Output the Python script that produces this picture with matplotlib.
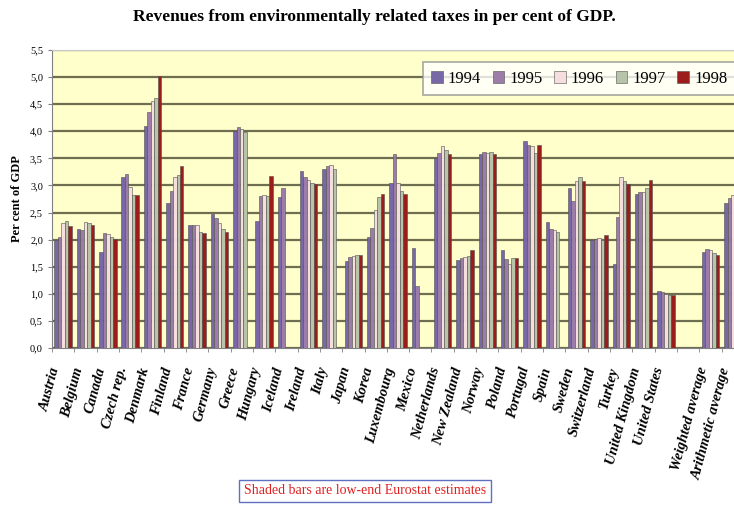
import numpy as np
import matplotlib
matplotlib.use('Agg')
import matplotlib.pyplot as plt
from matplotlib.ticker import MultipleLocator, FuncFormatter

nan = np.nan

# categories (an empty slot before the two averages)
countries = ['Austria', 'Belgium', 'Canada', 'Czech rep.', 'Denmark', 'Finland',
             'France', 'Germany', 'Greece', 'Hungary', 'Iceland', 'Ireland', 'Italy',
             'Japan', 'Korea', 'Luxembourg', 'Mexico', 'Netherlands', 'New Zealand',
             'Norway', 'Poland', 'Portugal', 'Spain', 'Sweden', 'Switzerland', 'Turkey',
             'United Kingdom', 'United States', '', 'Weighted average',
             'Arithmetic average']
years = ['1994', '1995', '1996', '1997', '1998']

# per cent of GDP, one list per year
v1994 = [2.00, 2.20, 1.78, 3.15, 4.10, 2.68, 2.27, 2.48, 4.00, 2.35, 2.78, 3.27, 3.30,
         1.60, 2.05, 3.05, 1.85, 3.50, 1.62, 3.58, 1.80, 3.82, 2.33, 2.95, 2.00, 1.55,
         2.85, 1.05, nan, 1.78, 2.68]
v1995 = [2.05, 2.18, 2.12, 3.22, 4.35, 2.90, 2.27, 2.40, 4.08, 2.80, 2.95, 3.15, 3.36,
         1.68, 2.22, 3.58, 1.15, 3.60, 1.66, 3.62, 1.65, 3.75, 2.20, 2.72, 2.02, 2.42,
         2.88, 1.03, nan, 1.82, 2.76]
v1996 = [2.30, 2.32, 2.10, 2.97, 4.55, 3.15, 2.27, 2.30, 4.05, 2.82, nan, 3.10, 3.38,
         1.70, 2.55, 3.05, nan, 3.72, 1.68, 3.60, 1.55, 3.72, 2.17, 3.08, 2.03, 3.15,
         2.88, 1.00, nan, 1.80, 2.82]
v1997 = [2.35, 2.30, 2.05, 2.82, 4.62, 3.20, 2.15, 2.20, 3.98, 2.80, nan, 3.05, 3.30,
         1.72, 2.78, 2.90, nan, 3.65, 1.70, 3.62, 1.67, 3.60, 2.15, 3.15, 2.00, 3.08,
         2.95, 0.98, nan, 1.75, 2.80]
v1998 = [2.25, 2.27, 2.02, 2.82, 5.02, 3.35, 2.13, 2.15, nan, 3.18, nan, 3.03, nan,
         1.72, 2.85, 2.85, nan, 3.58, 1.80, 3.58, 1.67, 3.75, nan, 3.08, 2.08, 3.02,
         3.10, 0.97, nan, 1.72, 2.78]
series = [v1994, v1995, v1996, v1997, v1998]
colors = ['#7868a8', '#9c7ca8', '#f6dede', '#b8c4aa', '#9c1c1c']

plt.rcParams['font.family'] = ['Liberation Serif', 'DejaVu Serif']

fig = plt.figure(figsize=(7.34, 5.14), dpi=100)
ax = fig.add_axes([52 / 734, 166 / 514, 692 / 734, 298 / 514])
ax.set_facecolor('#ffffcc')

x = np.arange(len(countries))
w = 0.156
for i, (vals, c) in enumerate(zip(series, colors)):
    ax.bar(x + (i - 2) * w, vals, width=w, color=c, edgecolor='#505050',
           linewidth=0.4, zorder=3, label=years[i])

ax.set_xlim(-0.5, len(countries) - 0.5)
ax.set_ylim(0, 5.5)
ax.yaxis.set_major_locator(MultipleLocator(0.5))
ax.yaxis.set_major_formatter(FuncFormatter(lambda v, p: f'{v:.1f}'.replace('.', ',')))
ax.grid(axis='y', color='#6e6e50', linewidth=1.6, zorder=1)
ax.set_axisbelow(True)

# label anchors sit a little left of the slot centres
ax.set_xticks(x - 0.3)
ax.set_xticklabels(countries, rotation=75, ha='right', va='center',
                   rotation_mode='anchor', fontsize=10.5, fontweight='bold',
                   fontstyle='italic')
ax.set_xticks(np.arange(-0.5, len(countries)), minor=True)
ax.tick_params(axis='x', which='major', length=0, pad=14)
ax.tick_params(axis='x', which='minor', length=3, color='#808080')
ax.tick_params(axis='y', labelsize=7.5, length=3, color='#808080')

ax.spines['right'].set_visible(False)
ax.spines['top'].set_color('#c8c8c8')
ax.spines['left'].set_color('#808080')
ax.spines['bottom'].set_color('#808080')

ax.set_ylabel('Per cent of GDP', fontsize=9, fontweight='bold', labelpad=5)

fig.text(0.51, 0.966, 'Revenues from environmentally related taxes in per cent of GDP.',
         ha='center', va='center', fontsize=12.5, fontweight='bold')

leg = fig.legend(loc='center', bbox_to_anchor=(0.789, 0.847), ncol=5, fontsize=12,
                 frameon=True, fancybox=False, edgecolor='#909090', handlelength=0.7,
                 handleheight=0.7, handletextpad=0.3, columnspacing=0.7,
                 borderpad=0.5)
leg.get_frame().set_linewidth(1.2)

fig.text(365 / 734, 1 - 491 / 514, 'Shaded bars are low-end Eurostat estimates',
         ha='center', va='center', fontsize=10, color='#e02020',
         bbox=dict(boxstyle='square,pad=0.35', facecolor='white', edgecolor='#6070c0',
                   linewidth=1))

fig.savefig('out.png', dpi=100)
